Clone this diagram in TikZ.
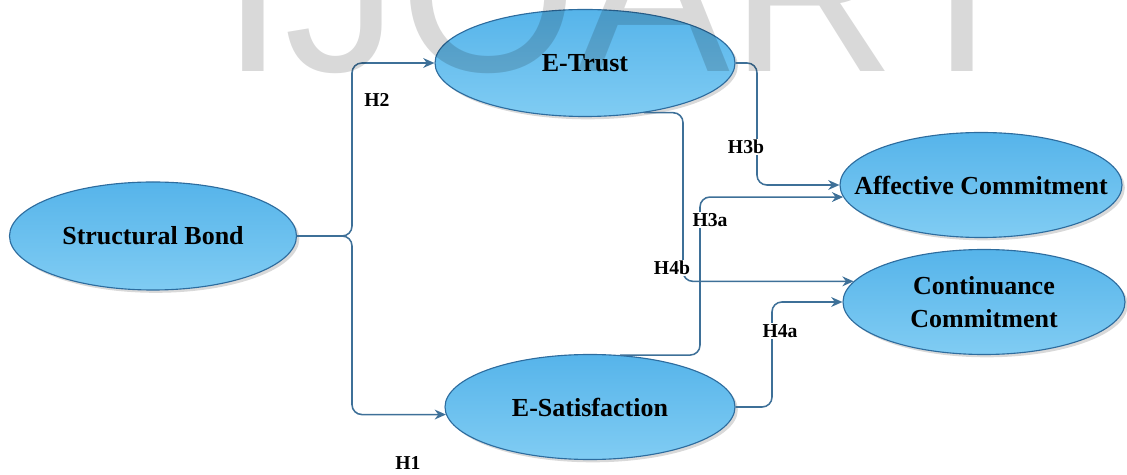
\documentclass[tikz,border=0pt]{standalone}
\usepackage{fontspec}
\setmainfont{Liberation Serif}
\newfontfamily\markfont{Liberation Sans}
\usetikzlibrary{shapes.geometric, arrows.meta, shadows}
\definecolor{bubbleTop}{RGB}{86,180,234}
\definecolor{bubbleBottom}{RGB}{128,204,243}
\definecolor{bubbleEdge}{RGB}{45,108,158}
\definecolor{linkBlue}{RGB}{62,112,152}

\begin{document}
\begin{tikzpicture}[
    construct/.style={ellipse, draw=bubbleEdge, line width=0.8pt, top color=bubbleTop, bottom color=bubbleBottom, drop shadow={opacity=0.3, shadow xshift=2pt, shadow yshift=-2pt}, font=\fontsize{18.5}{23}\selectfont\bfseries, align=center, inner xsep=-1cm, inner ysep=0pt, minimum width=7.05cm, minimum height=2.625cm},
    link/.style={-{Stealth[length=8pt, width=7pt]}, draw=linkBlue, line width=1.1pt, rounded corners=7pt},
    hyp/.style={fill=white, inner sep=1pt, font=\fontsize{14}{16}\selectfont\bfseries}
]
\useasboundingbox (0,0) rectangle (28.175,-11.875);

% Constructs
\node[construct, minimum width=7.175cm, minimum height=2.7cm] (bond) at (3.825,-5.9) {Structural Bond};
\node[construct, minimum width=7.5cm, minimum height=2.675cm] (trust) at (14.625,-1.575) {E-Trust};
\node[construct, minimum width=7.25cm] (sat) at (14.75,-10.175) {E-Satisfaction};
\node[construct] (aff) at (24.525,-4.625) {Affective Commitment};
\node[construct] (cont) at (24.6,-7.55) {Continuance\\Commitment};

% Bend points
\coordinate (fork) at (8.8,-5.9);
\coordinate (h3bX) at (18.925,0);
\coordinate (h3aX) at (17.5,0);
\coordinate (h4bX) at (17.075,0);
\coordinate (h4aX) at (19.3,0);

% Arrows
\draw[link] (bond.east) -- (fork) |- (trust.west);
\draw[link] (bond.east) -- (fork) |- (sat.183);
\draw[link] (trust.east) -| (h3bX |- aff.west) -- (aff.west);
\draw[link] (sat.60) -| (h3aX |- aff.185) -- (aff.185);
\draw[link] (trust.-40) -| (h4bX |- cont.171) -- (cont.171);
\draw[link] (sat.east) -| (h4aX |- cont.west) -- (cont.west);

% Hypotheses
\node[hyp] (h2) at (9.425,-2.5) {H2};
\node[hyp] (h1) at (10.2,-11.575) {H1};
\node[hyp] (h3b) at (18.65,-3.675) {H3b};
\node[hyp] (h3a) at (17.75,-5.5) {H3a};
\node[hyp] (h4b) at (16.8,-6.7) {H4b};
\node[hyp] (h4a) at (19.5,-8.275) {H4a};

% Watermark
\begin{scope}
\clip (0,0) rectangle (28.175,-11.875);
\node[anchor=base west, inner sep=0pt, text=black, text opacity=0.15, font=\markfont\fontsize{163}{170}\selectfont] (mark) at (5.525,-1.8) {IJOART};
\end{scope}

\end{tikzpicture}
\end{document}
